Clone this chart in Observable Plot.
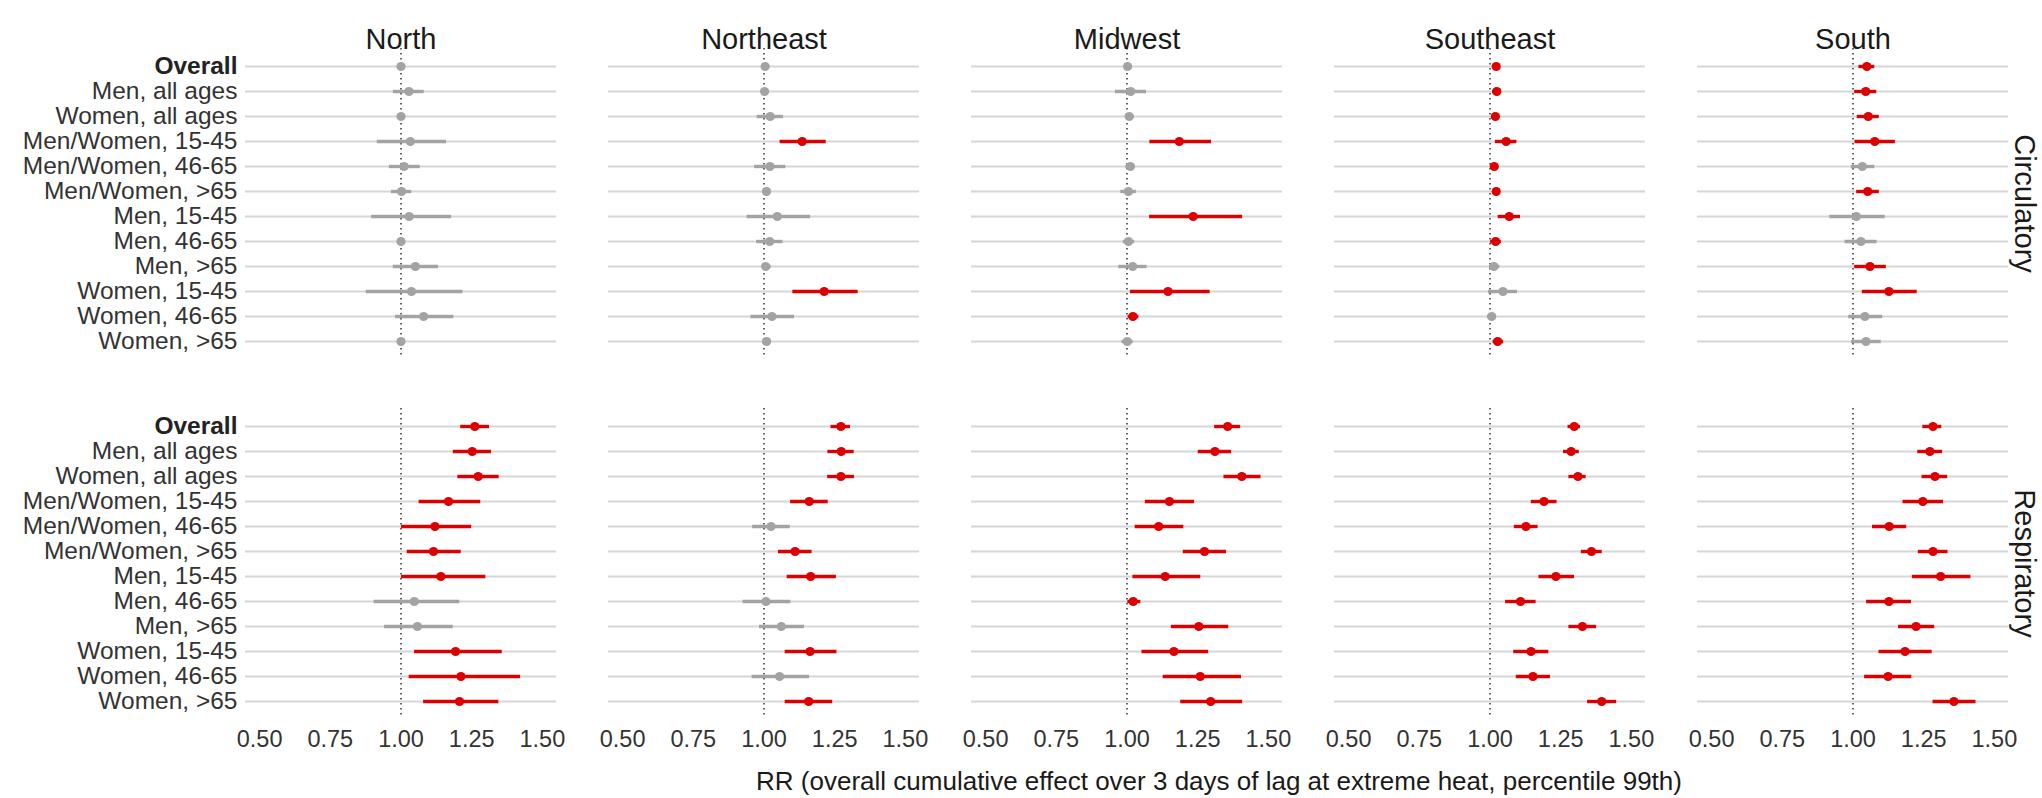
<!DOCTYPE html>
<html><head><meta charset="utf-8">
<script src="https://cdn.jsdelivr.net/npm/d3@7"></script>
<script src="https://cdn.jsdelivr.net/npm/@observablehq/plot@0.6"></script>
<style>body{margin:0;background:#fff}</style>
</head><body><div id="chart"></div>
<script>
const categories = ["Overall","Men, all ages","Women, all ages","Men/Women, 15-45","Men/Women, 46-65","Men/Women, >65","Men, 15-45","Men, 46-65","Men, >65","Women, 15-45","Women, 46-65","Women, >65"];
const regions = ["North","Northeast","Midwest","Southeast","South"];
const causes = ["Circulatory","Respiratory"];
const xTicks = [0.5, 0.75, 1, 1.25, 1.5];
const xTitle = "RR (overall cumulative effect over 3 days of lag at extreme heat, percentile 99th)";

// each row: [estimate, lower 95% CI, upper 95% CI], in the order of categories
const northCirc = [[1.000,0.992,1.008],[1.028,0.973,1.082],[1.000,0.992,1.008],[1.033,0.916,1.161],[1.011,0.959,1.068],[1.002,0.966,1.038],[1.029,0.896,1.179],[1.000,0.992,1.008],[1.051,0.973,1.133],[1.037,0.877,1.219],[1.080,0.981,1.187],[1.000,0.992,1.008]];
const northeastCirc = [[1.004,0.993,1.015],[1.002,0.991,1.013],[1.022,0.976,1.069],[1.135,1.057,1.220],[1.021,0.967,1.077],[1.009,0.995,1.022],[1.047,0.940,1.165],[1.020,0.974,1.067],[1.006,0.993,1.025],[1.213,1.102,1.333],[1.028,0.954,1.108],[1.009,0.995,1.026]];
const midwestCirc = [[1.002,0.992,1.012],[1.013,0.959,1.069],[1.008,0.994,1.025],[1.185,1.081,1.299],[1.012,0.996,1.029],[1.005,0.978,1.033],[1.234,1.080,1.409],[1.005,0.987,1.027],[1.020,0.971,1.071],[1.145,1.012,1.294],[1.021,1.004,1.042],[1.001,0.982,1.022]];
const southeastCirc = [[1.022,1.011,1.033],[1.024,1.009,1.037],[1.019,1.006,1.033],[1.057,1.019,1.095],[1.015,1.002,1.028],[1.022,1.009,1.035],[1.068,1.029,1.108],[1.020,1.002,1.040],[1.014,0.998,1.035],[1.046,0.995,1.097],[1.006,0.991,1.022],[1.027,1.011,1.048]];
const southCirc = [[1.049,1.021,1.077],[1.045,1.006,1.084],[1.054,1.015,1.093],[1.077,1.007,1.150],[1.033,0.994,1.077],[1.052,1.013,1.093],[1.012,0.918,1.114],[1.028,0.972,1.085],[1.060,1.006,1.118],[1.127,1.033,1.227],[1.042,0.985,1.105],[1.046,0.995,1.100]];
const northResp = [[1.261,1.211,1.313],[1.252,1.185,1.320],[1.273,1.201,1.347],[1.168,1.064,1.282],[1.120,1.002,1.250],[1.115,1.022,1.213],[1.141,1.002,1.300],[1.047,0.905,1.208],[1.058,0.942,1.185],[1.193,1.048,1.358],[1.212,1.029,1.423],[1.207,1.080,1.346]];
const northeastResp = [[1.272,1.237,1.306],[1.273,1.226,1.319],[1.272,1.225,1.320],[1.160,1.094,1.227],[1.025,0.960,1.093],[1.110,1.051,1.170],[1.165,1.082,1.256],[1.007,0.926,1.095],[1.061,0.984,1.143],[1.163,1.075,1.258],[1.055,0.958,1.161],[1.158,1.075,1.243]];
const midwestResp = [[1.356,1.310,1.402],[1.311,1.252,1.370],[1.406,1.343,1.474],[1.150,1.065,1.239],[1.112,1.029,1.201],[1.274,1.199,1.352],[1.135,1.021,1.261],[1.022,1.003,1.049],[1.254,1.157,1.360],[1.166,1.053,1.289],[1.259,1.128,1.405],[1.296,1.190,1.409]];
const southeastResp = [[1.298,1.276,1.320],[1.287,1.260,1.316],[1.311,1.279,1.340],[1.191,1.146,1.237],[1.127,1.086,1.170],[1.359,1.323,1.397],[1.233,1.173,1.299],[1.108,1.055,1.163],[1.327,1.279,1.377],[1.145,1.084,1.208],[1.152,1.093,1.214],[1.395,1.345,1.448]];
const southResp = [[1.283,1.247,1.314],[1.272,1.229,1.317],[1.290,1.244,1.335],[1.247,1.177,1.320],[1.128,1.069,1.190],[1.283,1.231,1.336],[1.310,1.210,1.417],[1.127,1.048,1.207],[1.223,1.161,1.289],[1.184,1.092,1.280],[1.124,1.041,1.208],[1.357,1.283,1.435]];

const panelData = {
  North: [northCirc, northResp],
  Northeast: [northeastCirc, northeastResp],
  Midwest: [midwestCirc, midwestResp],
  Southeast: [southeastCirc, southeastResp],
  South: [southCirc, southResp]
};

const rows = [];
for (const region of regions) {
  causes.forEach((cause, ci) => {
    panelData[region][ci].forEach(([est, lo, hi], i) => {
      rows.push({region, cause, group: categories[i], est, lo, hi,
        status: (lo > 1 || hi < 1) ? "significant" : "not significant"});
    });
  });
}

const FONT = "'Liberation Sans', Arial, Helvetica, sans-serif";
const W = 2042, H = 798;

const chart = Plot.plot({
  width: W, height: H,
  marginLeft: 245, marginRight: 34, marginTop: 48, marginBottom: 79.4,
  style: {fontFamily: FONT, background: "#fff", overflow: "visible"},
  x: {domain: [0.45, 1.55]},
  y: {type: "point", domain: categories, padding: 0.6},
  fx: {domain: regions, paddingInner: 0.1433, paddingOuter: 0, axis: null},
  fy: {domain: causes, paddingInner: 0.1398, paddingOuter: 0, axis: null},
  color: {domain: ["significant", "not significant"], range: ["#dd0000", "#a3a3a3"]},
  marks: [
    Plot.ruleY(categories, {y: d => d, stroke: "#d6d6d6", strokeWidth: 2.2}),
    Plot.ruleX([1], {stroke: "#4a4a4a", strokeWidth: 1.7, strokeDasharray: "1.6,3.4"}),
    Plot.ruleY(rows, {fx: "region", fy: "cause", y: "group", x1: "lo", x2: "hi", stroke: "status", strokeWidth: 3.4}),
    Plot.dot(rows, {fx: "region", fy: "cause", y: "group", x: "est", fill: "status", r: 4.6}),
    Plot.axisX({ticks: xTicks, tickFormat: d3.format(".2f"), tickSize: 0, tickPadding: 12, fontSize: 23.5, fill: "#333", label: null}),
    Plot.axisY({tickSize: 0, tickPadding: 8, fontSize: 24.5, fill: "#333", label: null}),
    Plot.text(regions, {fx: regions, fy: regions.map(() => causes[0]), text: d => d, frameAnchor: "top", dy: -20, fontSize: 29, fill: "#1a1a1a"}),
    Plot.text(causes, {fx: causes.map(() => regions[regions.length - 1]), fy: causes, text: d => d, frameAnchor: "right", textAnchor: "middle", dx: 16, rotate: 90, fontSize: 29, fill: "#1a1a1a"})
  ]
});

const svg = d3.select(chart);
svg.selectAll("text").filter(function () { return this.textContent === "Overall"; })
  .attr("font-weight", "bold").attr("fill", "#222");
svg.append("text")
  .attr("x", 1219).attr("y", 783)
  .attr("text-anchor", "middle").attr("dominant-baseline", "middle")
  .attr("font-family", FONT).attr("font-size", 26).attr("fill", "#1a1a1a")
  .text(xTitle);

document.getElementById("chart").appendChild(chart);
</script>
</body></html>
